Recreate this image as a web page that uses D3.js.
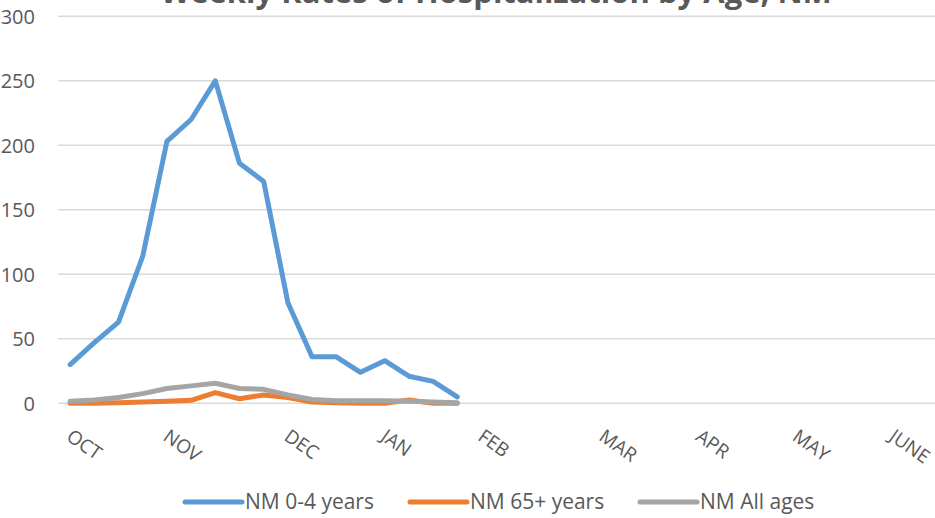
<!DOCTYPE html>
<html>
<head>
<meta charset="utf-8">
<script src="https://cdn.jsdelivr.net/npm/d3@7"></script>
<style>
  html, body { margin: 0; padding: 0; background: #fff; }
  svg { display: block; font-family: "Open Sans", "Liberation Sans", sans-serif; }
</style>
</head>
<body>
<svg id="chart" width="935" height="518"></svg>
<script>
// ---- data ----
const title = "Weekly Rates of Hospitalization by Age, NM";
const weekCount = 37;
const monthLabels = ["OCT", "NOV", "DEC", "JAN", "FEB", "MAR", "APR", "MAY", "JUNE"];
const monthWeekIndex = [0, 4, 9, 13, 17, 22, 26, 30, 34];
const yTicks = [0, 50, 100, 150, 200, 250, 300];
const seriesNames = ["NM 0-4 years", "NM 65+ years", "NM All ages"];
const seriesColors = ["#5B9BD5", "#ED7D31", "#A5A5A5"];
const rates0to4 = [30, 47, 63, 114, 203, 220, 250, 186, 172, 78, 36, 36, 24, 33, 21, 17, 5];
const rates65plus = [0, 0, 0.5, 1, 1.5, 2.3, 8.3, 3.5, 6.5, 4.5, 1, 0.5, 0, 0, 2.5, 0, 0];
const ratesAll = [1.5, 2.5, 4.5, 7.5, 11.5, 13.5, 15.5, 11.5, 10.8, 6.5, 3, 2, 2, 2, 1.5, 1, 0.5];

// ---- layout ----
const svg = d3.select("#chart");
const left = 58, band = 24.2;
const weeks = d3.range(weekCount);
const x = d3.scaleBand().domain(weeks).range([left, left + band * weekCount]);
const y = d3.scaleLinear().domain([0, 300]).range([403.3, 16.3]);
const textColor = "#595959";

// gridlines
svg.append("g").selectAll("line").data(yTicks).join("line")
  .attr("x1", left).attr("x2", 935 + 20)
  .attr("y1", d => y(d)).attr("y2", d => y(d))
  .attr("stroke", "#D9D9D9").attr("stroke-width", 1.5);

// y axis labels
const yAxis = d3.axisLeft(y).tickValues(yTicks).tickSize(0).tickPadding(0);
const gy = svg.append("g").attr("transform", "translate(35,0)").call(yAxis);
gy.select(".domain").remove();
gy.selectAll("text").attr("font-size", 20).attr("fill", textColor)
  .attr("font-family", "'Open Sans', sans-serif").attr("dy", "0.35em");

// x axis labels (rotated months)
const monthData = monthLabels.map((m, i) => ({ label: m, week: monthWeekIndex[i] }));
svg.append("g").selectAll("text").data(monthData).join("text")
  .attr("transform", d => `translate(${x(d.week) + x.bandwidth() / 2 + 3},428) rotate(35)`)
  .attr("dy", "0.72em")
  .attr("font-size", 19).attr("fill", textColor)
  .attr("text-anchor", "start")
  .text(d => d.label);

// lines
const allSeries = [rates0to4, rates65plus, ratesAll];
const line = d3.line()
  .x((d, i) => x(weeks[i]) + x.bandwidth() / 2)
  .y(d => y(d));
svg.append("g").selectAll("path").data(allSeries).join("path")
  .attr("d", d => line(d))
  .attr("fill", "none")
  .attr("stroke", (d, i) => seriesColors[i])
  .attr("stroke-width", 5)
  .attr("stroke-linejoin", "round")
  .attr("stroke-linecap", "round");

// title (partly cut off at the top, as in the reference)
const t = svg.append("text")
  .attr("x", 496).attr("y", 3)
  .attr("text-anchor", "middle")
  .attr("font-weight", "bold")
  .attr("fill", textColor)
  .attr("font-size", 26)
  .text(title);
const tw = t.node().getComputedTextLength();
t.attr("font-size", 26 * 672 / tw);

// legend
const legendX = [185, 410, 640];
const lg = svg.append("g").selectAll("g").data(seriesNames).join("g")
  .attr("transform", (d, i) => `translate(${legendX[i]},502)`);
lg.append("line").attr("x1", 0).attr("x2", 57).attr("y1", 0).attr("y2", 0)
  .attr("stroke", (d, i) => seriesColors[i]).attr("stroke-width", 5)
  .attr("stroke-linecap", "round");
lg.append("text").attr("x", 60).attr("dy", "0.35em")
  .attr("font-size", 21).attr("fill", textColor)
  .text(d => d);
</script>
</body>
</html>
